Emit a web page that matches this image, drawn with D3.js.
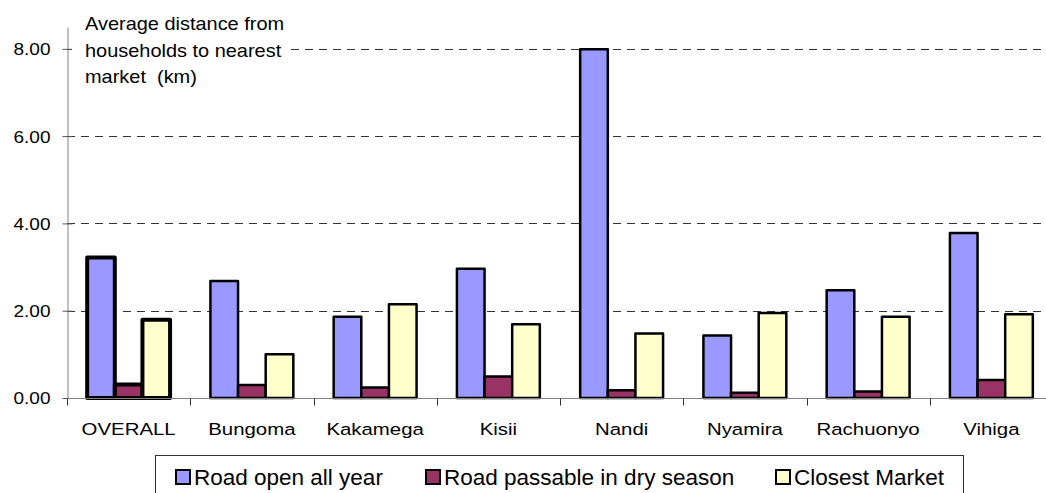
<!DOCTYPE html>
<html>
<head>
<meta charset="utf-8">
<script src="https://cdn.jsdelivr.net/npm/d3@7"></script>
<style>
  body { margin: 0; background: #fff; }
  svg { display: block; font-family: "Liberation Sans", Arial, sans-serif; }
</style>
</head>
<body>
<svg id="chart" width="1046" height="493"></svg>
<script>
// Data
var categories = ['OVERALL', 'Bungoma', 'Kakamega', 'Kisii', 'Nandi', 'Nyamira', 'Rachuonyo', 'Vihiga'];
var seriesNames = ['Road open all year', 'Road passable in dry season', 'Closest Market'];
var roadOpenAllYear = [3.22, 2.68, 1.86, 2.96, 7.99, 1.43, 2.47, 3.78];
var roadPassableDry = [0.31, 0.30, 0.24, 0.49, 0.18, 0.12, 0.15, 0.41];
var closestMarket = [1.79, 1.00, 2.15, 1.69, 1.48, 1.95, 1.86, 1.92];
var yTickValues = [0, 2, 4, 6, 8];
var titleLines = ['Average distance from', 'households to nearest', 'market  (km)'];

var seriesValues = [roadOpenAllYear, roadPassableDry, closestMarket];
var seriesColors = ['#9999FF', '#993366', '#FFFFCC'];

var svg = d3.select('#chart');

var PLOT_LEFT = 67;
var PLOT_RIGHT = 1053; // plot runs a bit past the right edge of the picture
var PLOT_BOTTOM = 398;
var PLOT_TOP = 27;

var x0 = d3.scaleBand()
    .domain(categories)
    .range([PLOT_LEFT, PLOT_RIGHT]);

var x1 = d3.scaleBand()
    .domain(seriesNames)
    .range([0, x0.bandwidth()])
    .paddingOuter(0.73);

var y = d3.scaleLinear()
    .domain([0, 8.5])
    .range([PLOT_BOTTOM, PLOT_TOP]);

// Dashed gridlines
svg.append('g')
    .attr('class', 'grid')
    .selectAll('line')
    .data(yTickValues.filter(function (d) { return d > 0; }))
    .enter()
        .append('line')
        .attr('x1', PLOT_LEFT)
        .attr('x2', 1046)
        .attr('y1', function (d) { return Math.round(y(d)) + 0.5; })
        .attr('y2', function (d) { return Math.round(y(d)) + 0.5; })
        .style('stroke', '#333')
        .style('stroke-width', 1)
        .style('stroke-dasharray', '8,6');

// Bars
var rows = categories.map(function (c, i) {
    return seriesNames.map(function (s, j) {
        return { category: c, series: s, value: seriesValues[j][i], color: seriesColors[j], overall: i === 0 };
    });
});

svg.append('g')
    .attr('class', 'bars')
    .selectAll('g')
    .data(rows)
    .enter()
        .append('g')
        .attr('transform', function (d, i) { return 'translate(' + x0(categories[i]) + ',0)'; })
    .selectAll('rect')
    .data(function (d) { return d; })
    .enter()
        .append('rect')
        .attr('x', function (d) { return x1(d.series); })
        .attr('width', x1.bandwidth())
        .attr('y', function (d) { return y(d.value); })
        .attr('height', function (d) { return y(0) - y(d.value); })
        .style('fill', function (d) { return d.color; })
        .style('stroke', '#000')
        .style('stroke-width', function (d) { return d.overall ? 4 : 2.5; })
        .style('stroke-linejoin', 'round');

// Y axis
var yAxis = d3.axisLeft(y)
    .tickValues(yTickValues)
    .tickFormat(d3.format('.2f'))
    .tickSizeOuter(0)
    .tickSizeInner(5)
    .tickPadding(0);

var gY = svg.append('g')
    .attr('transform', 'translate(' + (PLOT_LEFT + 0.5) + ',0)')
    .call(yAxis);
gY.select('path')
    .style('stroke', '#808080');
gY.selectAll('.tick line')
    .attr('x1', 5)
    .style('stroke', '#555');
gY.selectAll('.tick text')
    .attr('x', null)
    .attr('dy', '0.35em')
    .attr('text-anchor', 'end')
    .attr('transform', 'translate(-17,0) scale(1.12,1)')
    .style('font-family', '"Liberation Sans", Arial, sans-serif')
    .style('font-size', '17px')
    .attr('fill', '#000');

// X axis line and category ticks at band edges
var gX = svg.append('g')
    .attr('transform', 'translate(0,' + (PLOT_BOTTOM + 0.5) + ')');
gX.append('line')
    .attr('x1', PLOT_LEFT)
    .attr('x2', 1046)
    .style('stroke', '#808080');
gX.selectAll('line.tick')
    .data(categories)
    .enter()
        .append('line')
        .attr('class', 'tick')
        .attr('x1', function (d) { return Math.round(x0(d)) + 0.5; })
        .attr('x2', function (d) { return Math.round(x0(d)) + 0.5; })
        .attr('y1', 0)
        .attr('y2', 7)
        .style('stroke', '#333');

var xAxis = d3.axisBottom(x0).tickSize(0).tickSizeOuter(0);
var gXLabels = svg.append('g')
    .attr('transform', 'translate(0,' + PLOT_BOTTOM + ')')
    .call(xAxis);
gXLabels.select('path').remove();
gXLabels.selectAll('.tick text')
    .attr('y', 0)
    .attr('dy', 0)
    .attr('transform', 'translate(0,37) scale(1.2,1)')
    .style('font-family', '"Liberation Sans", Arial, sans-serif')
    .style('font-size', '17px')
    .attr('fill', '#000');

// Axis title sits on a white box, covering the top gridline
svg.append('rect')
    .attr('x', 72)
    .attr('y', 0)
    .attr('width', 216)
    .attr('height', 92)
    .style('fill', '#fff');
svg.append('g')
    .selectAll('text')
    .data(titleLines)
    .enter()
        .append('text')
        .attr('transform', function (d, i) { return 'translate(85,' + (30 + i * 26.5) + ') scale(1.05,1)'; })
        .style('font-size', '19px')
        .style('white-space', 'pre')
        .attr('xml:space', 'preserve')
        .text(function (d) { return d; });

// Legend
var legendX = [175, 425, 775];
var gLegend = svg.append('g').attr('class', 'legend');
gLegend.append('rect')
    .attr('x', 155.5)
    .attr('y', 455.5)
    .attr('width', 808)
    .attr('height', 60)
    .style('fill', '#fff')
    .style('stroke', '#333')
    .style('stroke-width', 1);

var items = gLegend.selectAll('g.item')
    .data(seriesNames)
    .enter()
        .append('g')
        .attr('class', 'item')
        .attr('transform', function (d, i) { return 'translate(' + legendX[i] + ',0)'; });
items.append('rect')
    .attr('x', 1)
    .attr('y', 470)
    .attr('width', 14)
    .attr('height', 14)
    .style('fill', function (d, i) { return seriesColors[i]; })
    .style('stroke', '#000')
    .style('stroke-width', 2);
items.append('text')
    .attr('x', 19)
    .attr('y', 485)
    .style('font-size', '22.5px')
    .text(function (d) { return d; });
</script>
</body>
</html>
